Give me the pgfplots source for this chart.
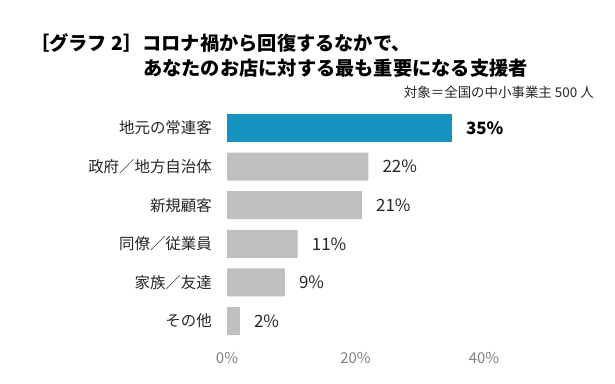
\documentclass[border=0pt]{standalone}
\usepackage{fontspec}
\setmainfont{Noto Sans CJK JP}
\usepackage{pgfplots}
\pgfplotsset{compat=1.18}
\definecolor{barblue}{RGB}{20,147,192}
\definecolor{bargray}{RGB}{191,191,191}
\definecolor{ticktxt}{RGB}{127,127,127}
\definecolor{labtxt}{RGB}{38,38,38}
\begin{document}
\begin{tikzpicture}
\useasboundingbox (0,0) rectangle (615bp,384bp);
\begin{axis}[
  at={(227bp,43.7bp)}, anchor=south west,
  scale only axis, width=257bp, height=231.6bp,
  xmin=0, xmax=40, ymin=-0.5, ymax=5.5,
  xbar, bar width=28bp, bar shift=0pt,
  axis line style={draw=none}, major tick length=0pt,
  xtick={0,20,40},
  xticklabel={\pgfmathprintnumber{\tick}\%},
  xticklabel style={font=\fontsize{15}{15}\selectfont, text=ticktxt, anchor=center, yshift=-18bp},
  ytick={0,1,2,3,4,5},
  yticklabels={その他,家族／友達,同僚／従業員,新規顧客,政府／地方自治体,地元の常連客},
  yticklabel style={font=\fontsize{15.5}{15.5}\selectfont, text=labtxt, anchor=east, inner sep=0pt, xshift=-15bp},
  /pgf/number format/assume math mode=true,
  point meta=x,
  nodes near coords={\pgfmathprintnumber{\pgfplotspointmeta}\%},
  nodes near coords style={anchor=west, inner sep=0pt, xshift=14bp, text=labtxt, font=\fontsize{17}{17}\selectfont},
  clip=false,
]
\addplot[fill=barblue, draw=none, nodes near coords style={font=\bfseries\fontsize{17}{17}\selectfont, text=black}] coordinates {(35,5)};
\addplot[fill=bargray, draw=none] coordinates {(22,4) (21,3) (11,2) (9,1) (2,0)};
\end{axis}
\node[anchor=west, inner sep=0pt, font=\bfseries\fontsize{19.3}{19.3}\selectfont] at (30bp,341bp) {［グラフ 2］コロナ禍から回復するなかで、};
\node[anchor=west, inner sep=0pt, font=\bfseries\fontsize{19.3}{19.3}\selectfont] at (143bp,316bp) {あなたのお店に対する最も重要になる支援者};
\node[anchor=east, inner sep=0pt, font=\fontsize{13.5}{13.5}\selectfont, text=labtxt] at (594bp,292bp) {対象＝全国の中小事業主 500 人};
\end{tikzpicture}
\end{document}
